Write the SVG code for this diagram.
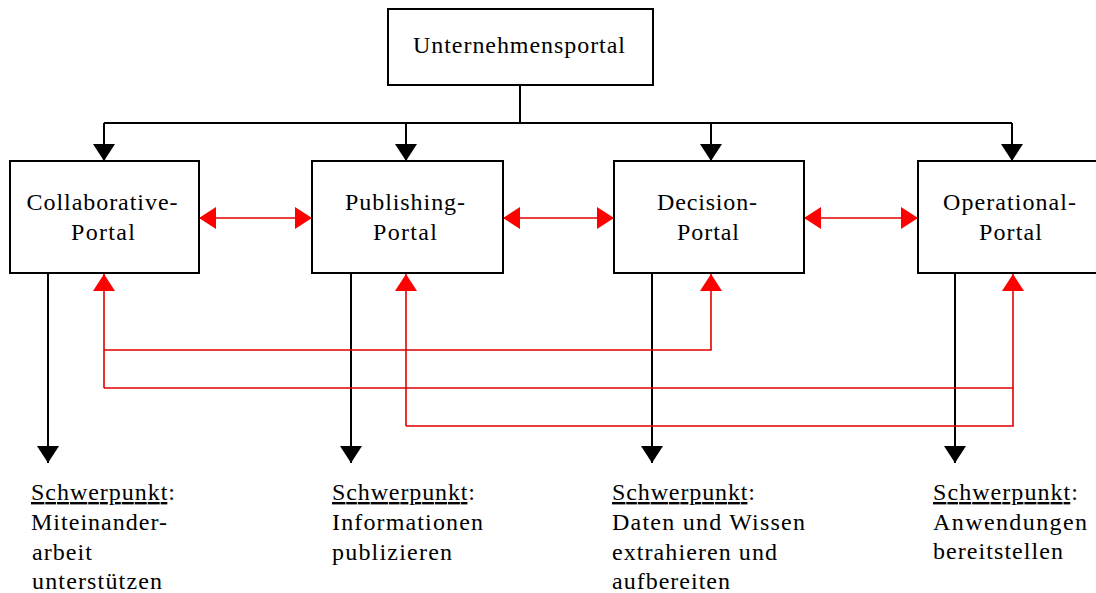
<svg xmlns="http://www.w3.org/2000/svg" width="1096" height="593" viewBox="0 0 1096 593">
<style>
.box{fill:#fff;stroke:#000;stroke-width:2}
.t{font-family:"Liberation Serif","Times New Roman",serif;font-size:24px;fill:#000}
.c{text-anchor:middle}
.blk{stroke:#000;stroke-width:2;fill:none}
.red{stroke:#e00000;stroke-width:1.6;fill:none}
.u{text-decoration:underline}
</style>
<defs>
<marker id="ab" markerUnits="userSpaceOnUse" markerWidth="17" markerHeight="22" refX="17" refY="11" orient="auto-start-reverse"><path d="M0,0 L17,11 L0,22 z" fill="#000"/></marker>
<marker id="ar" markerUnits="userSpaceOnUse" markerWidth="17" markerHeight="22" refX="17" refY="11" orient="auto-start-reverse"><path d="M0,0 L17,11 L0,22 z" fill="#ff0000"/></marker>
</defs>
<rect width="1096" height="593" fill="#fff"/>

<g id="connectors">
  <path class="blk" d="M520,85 V123"/>
  <path class="blk" d="M104,123 H1012"/>
  <path class="blk" d="M104,123 V161" marker-end="url(#ab)"/>
  <path class="blk" d="M406,123 V161" marker-end="url(#ab)"/>
  <path class="blk" d="M711,123 V161" marker-end="url(#ab)"/>
  <path class="blk" d="M1012,123 V161" marker-end="url(#ab)"/>

  <path class="red" d="M199,218 H312" marker-start="url(#ar)" marker-end="url(#ar)"/>
  <path class="red" d="M503,218 H614" marker-start="url(#ar)" marker-end="url(#ar)"/>
  <path class="red" d="M804,218 H918" marker-start="url(#ar)" marker-end="url(#ar)"/>

  <path class="blk" d="M48,273 V463" marker-end="url(#ab)"/>
  <path class="blk" d="M351,273 V463" marker-end="url(#ab)"/>
  <path class="blk" d="M652,273 V463" marker-end="url(#ab)"/>
  <path class="blk" d="M955,273 V463" marker-end="url(#ab)"/>

  <path class="red" d="M104,388 V274" marker-end="url(#ar)"/>
  <path class="red" d="M406,426 V274" marker-end="url(#ar)"/>
  <path class="red" d="M104,350 H711 V274" marker-end="url(#ar)"/>
  <path class="red" d="M104,388 H1013"/>
  <path class="red" d="M406,426 H1013 V274" marker-end="url(#ar)"/>
</g>

<g id="unternehmensportal">
  <rect class="box" x="388" y="9" width="265" height="76"/>
  <text class="t c" x="519" y="53" textLength="212" lengthAdjust="spacing">Unternehmensportal</text>
</g>

<g id="collaborative">
  <rect class="box" x="10" y="161" width="189" height="112"/>
  <text class="t c" x="102" y="210" textLength="151" lengthAdjust="spacing">Collaborative-</text>
  <text class="t c" x="103" y="240" textLength="64" lengthAdjust="spacing">Portal</text>
</g>

<g id="publishing">
  <rect class="box" x="312" y="161" width="191" height="112"/>
  <text class="t c" x="405" y="210" textLength="120" lengthAdjust="spacing">Publishing-</text>
  <text class="t c" x="405" y="240" textLength="64" lengthAdjust="spacing">Portal</text>
</g>

<g id="decision">
  <rect class="box" x="614" y="161" width="190" height="112"/>
  <text class="t c" x="707" y="210" textLength="100" lengthAdjust="spacing">Decision-</text>
  <text class="t c" x="708" y="240" textLength="62" lengthAdjust="spacing">Portal</text>
</g>

<g id="operational">
  <rect class="box" x="918" y="161" width="190" height="112"/>
  <text class="t c" x="1009.5" y="210" textLength="133" lengthAdjust="spacing">Operational-</text>
  <text class="t c" x="1010.5" y="240" textLength="63" lengthAdjust="spacing">Portal</text>
</g>

<g id="focus-collaborative">
  <text class="t" x="31" y="500" textLength="144" lengthAdjust="spacing"><tspan class="u">Schwerpunkt</tspan>:</text>
  <text class="t" x="31" y="530" textLength="136" lengthAdjust="spacing">Miteinander-</text>
  <text class="t" x="32" y="560" textLength="60" lengthAdjust="spacing">arbeit</text>
  <text class="t" x="32" y="589" textLength="130" lengthAdjust="spacing">unterstützen</text>
</g>

<g id="focus-publishing">
  <text class="t" x="332" y="500" textLength="143" lengthAdjust="spacing"><tspan class="u">Schwerpunkt</tspan>:</text>
  <text class="t" x="332" y="530" textLength="151" lengthAdjust="spacing">Informationen</text>
  <text class="t" x="332" y="560" textLength="120" lengthAdjust="spacing">publizieren</text>
</g>

<g id="focus-decision">
  <text class="t" x="612" y="500" textLength="143" lengthAdjust="spacing"><tspan class="u">Schwerpunkt</tspan>:</text>
  <text class="t" x="612" y="530" textLength="193" lengthAdjust="spacing">Daten und Wissen</text>
  <text class="t" x="612" y="560" textLength="165" lengthAdjust="spacing">extrahieren und</text>
  <text class="t" x="612" y="589" textLength="118" lengthAdjust="spacing">aufbereiten</text>
</g>

<g id="focus-operational">
  <text class="t" x="933" y="500" textLength="145" lengthAdjust="spacing"><tspan class="u">Schwerpunkt</tspan>:</text>
  <text class="t" x="933" y="530" textLength="154" lengthAdjust="spacing">Anwendungen</text>
  <text class="t" x="933" y="559" textLength="130" lengthAdjust="spacing">bereitstellen</text>
</g>
</svg>
